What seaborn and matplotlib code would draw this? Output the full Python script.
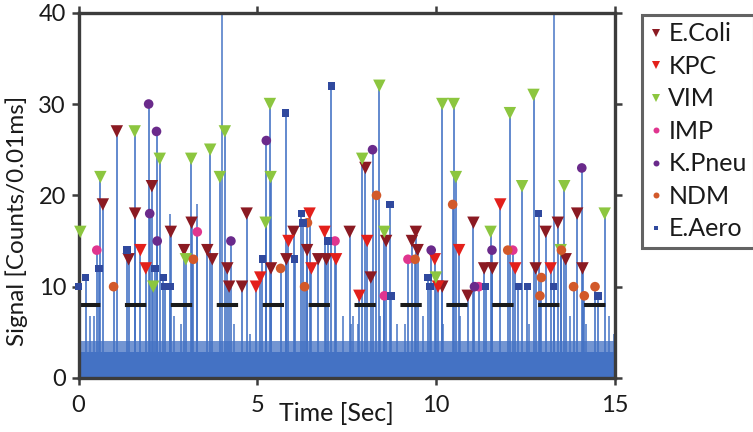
import matplotlib

matplotlib.use("Agg")
import matplotlib.pyplot as plt
from matplotlib.lines import Line2D
import numpy as np
import pandas as pd
import seaborn as sns

# ---------- data ----------
ecoli_t = [0.68, 1.07, 1.58, 1.40, 2.05, 2.58, 2.95, 3.16, 3.60, 3.74, 4.16, 4.21,
           4.57, 4.70, 5.38, 5.81, 6.01, 6.39, 6.70, 6.93, 7.58, 8.02, 8.17, 8.60,
           9.32, 9.43, 9.48, 10.17, 10.88, 11.04, 11.34, 11.57, 12.78, 13.06, 13.40,
           13.62, 13.94, 14.09]
ecoli_v = [19, 27, 18, 13, 21, 16, 14, 17, 14, 13, 12, 10,
           10, 18, 12, 13, 16, 14, 13, 13, 16, 23, 11, 15,
           15, 16, 14, 10, 9, 17, 12, 12, 12, 16, 17,
           13, 18, 12]

kpc_t = [1.73, 1.88, 4.96, 5.08, 5.87, 6.46, 6.51, 6.88, 7.20, 7.85, 8.07, 9.96,
         10.05, 10.64, 11.79, 12.21, 13.20]
kpc_v = [14, 12, 10, 11, 15, 18, 12, 16, 13, 9, 15, 13,
         10, 14, 19, 12, 12]

vim_t = [0.05, 0.61, 1.57, 2.09, 2.27, 3.00, 3.15, 3.68, 3.95, 4.09, 5.23, 5.35,
         5.37, 7.93, 8.41, 8.55, 9.99, 10.17, 10.49, 10.55, 11.52, 12.06, 12.40,
         12.72, 13.48, 13.58, 14.71]
vim_v = [16, 22, 27, 10, 24, 13, 24, 25, 22, 27, 17, 30,
         22, 24, 32, 16, 11, 30, 30, 22, 16, 29, 21,
         31, 14, 21, 18]

imp_t = [0.51, 3.32, 7.17, 8.55, 9.21, 11.19, 12.14]
imp_v = [14, 16, 15, 9, 13, 10, 14]

kpneu_t = [1.96, 2.18, 1.99, 2.20, 4.26, 5.25, 8.22, 9.86, 11.07, 11.56, 14.07]
kpneu_v = [30, 27, 18, 15, 15, 26, 25, 14, 10, 14, 23]

ndm_t = [0.98, 3.21, 5.65, 6.32, 6.40, 8.33, 9.41, 10.46, 12.00, 12.90, 12.94,
         13.50, 13.84, 14.14, 14.44]
ndm_v = [10, 13, 12, 10, 17, 20, 13, 19, 14, 9, 11,
         14, 10, 9, 10]

eaero_t = [0.00, 0.20, 0.57, 1.36, 2.13, 2.37, 2.42, 2.56, 5.14, 5.79, 6.04, 6.23,
           6.27, 6.97, 7.07, 8.71, 8.73, 9.77, 9.83, 11.38, 12.30, 12.55, 12.86,
           13.28, 14.52]
eaero_v = [10, 11, 12, 14, 12, 11, 10, 10, 13, 29, 13, 18,
           17, 15, 32, 19, 9, 11, 10, 10, 10, 10, 18,
           10, 9]

# spikes with no marker (two run off the top of the axis)
spike_t = [4.00, 13.30, 3.30, 2.55, 0.33, 0.42, 2.67, 2.86, 4.35, 4.80, 7.40,
           7.63, 7.67, 7.80, 8.43, 8.90, 9.13, 9.64, 10.20, 10.67, 12.60, 13.75,
           14.20, 14.82, 14.97]
spike_v = [41, 41, 19, 18, 6.8, 6.8, 6.8, 5.9, 5.9, 4.8, 6.8,
           5.9, 6.8, 5.9, 6.8, 5.9, 5.9, 6.8, 5.9, 6.8, 5.9, 6.8,
           5.9, 6.8, 4.8]

# baseline noise band
noise_t = [0, 15]
noise_core = [2.9, 2.9]
noise_fringe = [4.0, 4.0]

threshold = 8

strains = ["E.Coli", "KPC", "VIM", "IMP", "K.Pneu", "NDM", "E.Aero"]
colors = {
    "E.Coli": "#8B1A22",
    "KPC": "#E3201B",
    "VIM": "#8CC63F",
    "IMP": "#E0358F",
    "K.Pneu": "#6A2A8B",
    "NDM": "#D2592A",
    "E.Aero": "#30499E",
}
markers = {"E.Coli": "v", "KPC": "v", "VIM": "v", "IMP": "o",
           "K.Pneu": "o", "NDM": "o", "E.Aero": "s"}
sizes = {"E.Coli": 80, "KPC": 80, "VIM": 80, "IMP": 48,
         "K.Pneu": 48, "NDM": 48, "E.Aero": 30}

peaks = pd.concat([
    pd.DataFrame({"t": ecoli_t, "v": ecoli_v, "strain": "E.Coli"}),
    pd.DataFrame({"t": kpc_t, "v": kpc_v, "strain": "KPC"}),
    pd.DataFrame({"t": vim_t, "v": vim_v, "strain": "VIM"}),
    pd.DataFrame({"t": imp_t, "v": imp_v, "strain": "IMP"}),
    pd.DataFrame({"t": kpneu_t, "v": kpneu_v, "strain": "K.Pneu"}),
    pd.DataFrame({"t": ndm_t, "v": ndm_v, "strain": "NDM"}),
    pd.DataFrame({"t": eaero_t, "v": eaero_v, "strain": "E.Aero"}),
], ignore_index=True)

# ---------- plot ----------
sns.set_style("ticks")
plt.rcParams["font.family"] = ["Lato", "DejaVu Sans"]

stem_color = "#4472C4"
spine_color = "#3C3C3C"

fig = plt.figure(figsize=(7.53, 4.32), dpi=100)
ax = fig.add_axes([0.1043, 0.125, 0.7125, 0.8456])

ax.fill_between(noise_t, 0, noise_fringe, color=stem_color, alpha=0.75, lw=0, zorder=1)
ax.fill_between(noise_t, 0, noise_core, color=stem_color, lw=0, zorder=1)
ax.vlines(spike_t, 0, spike_v, color=stem_color, lw=1.2, alpha=0.9, zorder=2)
ax.vlines(peaks["t"], 0, peaks["v"], color=stem_color, lw=1.3, alpha=0.9, zorder=2)
ax.axhline(threshold, color="#1A1A1A", lw=2.9, dashes=(5.3, 6.1), zorder=3)

sns.scatterplot(
    data=peaks, x="t", y="v", hue="strain", style="strain", size="strain",
    hue_order=strains, style_order=strains, size_order=strains,
    palette=colors, markers=markers, sizes=sizes,
    linewidth=0, legend=False, zorder=6, clip_on=False, ax=ax,
)

ax.set_xlim(0, 15)
ax.set_ylim(0, 40)
ax.set_xticks([0, 5, 10, 15])
ax.set_yticks([0, 10, 20, 30, 40])
ax.tick_params(axis="both", which="major", direction="out", length=5, width=1.8,
               color=spine_color, labelsize=17, labelcolor="#1A1A1A",
               top=True, right=True, pad=4)
ax.tick_params(axis="x", pad=7)
for side in ax.spines.values():
    side.set_visible(True)
    side.set_linewidth(2.4)
    side.set_color(spine_color)
    side.set_zorder(5)

ax.set_xlabel("Time [Sec]", fontsize=18, color="#1A1A1A")
ax.set_ylabel("Signal [Counts/0.01ms]", fontsize=17.5, color="#1A1A1A")
ax.xaxis.set_label_coords(0.48, -0.065)
ax.yaxis.set_label_coords(-0.095, 0.43)

handles = [
    Line2D([], [], linestyle="none", marker=markers[s], color=colors[s],
           markeredgewidth=0, markersize=np.sqrt(sizes[s]) * 0.62)
    for s in strains
]
leg = fig.legend(
    handles, strains, loc="upper left", bbox_to_anchor=(0.8526, 0.9653),
    frameon=True, fancybox=False, fontsize=18, handlelength=0.5,
    handletextpad=0.25, labelspacing=0.38, borderpad=0.3, borderaxespad=0,
)
leg.get_frame().set_edgecolor(spine_color)
leg.get_frame().set_linewidth(2.2)
for txt in leg.get_texts():
    txt.set_color("#1A1A1A")

fig.savefig("out.png", dpi=100)
plt.close(fig)
